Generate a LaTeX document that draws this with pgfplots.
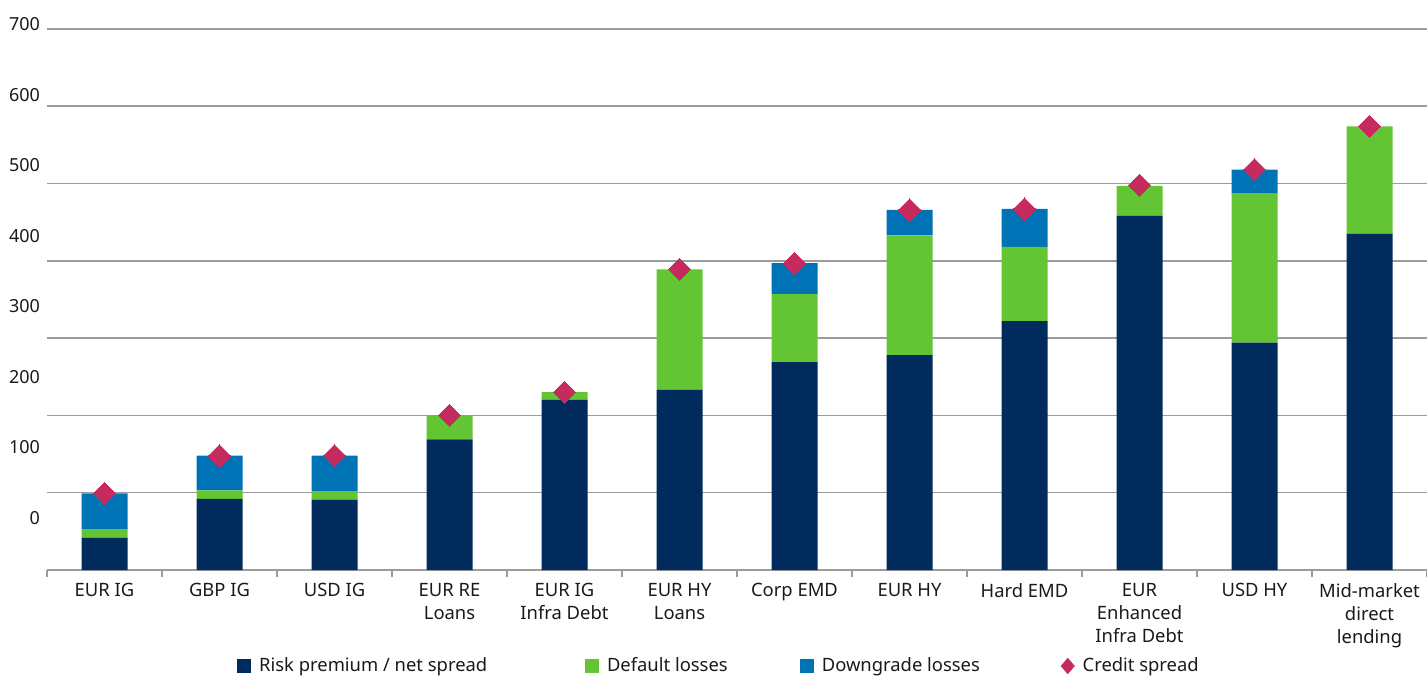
\documentclass[border=0pt]{standalone}
\usepackage{pgfplots}
\usepackage{pgfplotstable}
\pgfplotsset{compat=1.18}
\usepackage{fontspec}
\setmainfont{Noto Sans}
\definecolor{cnavy}{HTML}{002B5C}
\definecolor{cgreen}{HTML}{64C534}
\definecolor{cblue}{HTML}{0073B7}
\definecolor{ccrim}{HTML}{C52B5E}
\definecolor{cgrid}{HTML}{9C9C9C}
\definecolor{ctext}{HTML}{1A1A1A}

\pgfplotstableread{
x rp dl dg cs
0 42 11 46 99
1 92 11 45 148
2 91 11 46 148
3 169 31 0 200
4 220 10 0 230
5 233 156 0 389
6 269 88 40 397
7 278 155 33 466
8 322 96 49 467
9 458 39 0 498
10 294 193 31 518
11 435 139 0 574
}\datatable

\pgfplotsset{
  common/.style={
    scale only axis,
    width=690pt, height=275.2pt,
    xmin=-0.5, xmax=11.5,
    ymin=0, ymax=712,
    font=\fontsize{9.2}{11.5}\selectfont,
  }
}

\begin{document}
\begin{tikzpicture}
\begin{axis}[common, name=main,
  ybar stacked, bar width=23pt,
  axis x line*=bottom, axis y line*=left,
  x axis line style={cgrid, line width=0.75pt, -},
  y axis line style={draw=none},
  xtick={0,...,11},
  xticklabels={EUR IG, GBP IG, USD IG, EUR RE\\Loans, EUR IG\\Infra Debt, EUR HY\\Loans, Corp EMD, EUR HY, Hard EMD, EUR\\Enhanced\\Infra Debt, USD HY, Mid-market\\direct\\lending},
  xticklabel style={align=center, text=ctext, font=\fontsize{9.2}{11.5}\selectfont, yshift=-3.2pt},
  xtick style={draw=none},
  extra x ticks={-0.5,0.5,...,11.5},
  extra x tick labels={},
  extra x tick style={xtick style={draw=cgrid, line width=0.6pt}, major tick length=3.5pt, tick align=outside},
  ytick={67.5,158.7,249.8,341,432.2,523.3,614.5,705.6},
  yticklabels={0,100,200,300,400,500,600,700},
  yticklabel style={text=ctext, font=\fontsize{9}{11}\selectfont},
  ytick style={draw=none},
  extra y ticks={100,200,300,400,500,600,700},
  extra y tick labels={},
  extra y tick style={grid=major, major grid style={cgrid, line width=0.75pt}, ytick style={draw=none}},
]
\addplot[fill=cnavy, draw=none] table[x=x, y=rp]{\datatable};
\addplot[fill=cgreen, draw=none] table[x=x, y=dl]{\datatable};
\addplot[fill=cblue, draw=none] table[x=x, y=dg]{\datatable};
\end{axis}
\begin{axis}[common, hide axis,
  legend columns=4,
  legend style={at={(0.1377,-0.1744)}, anchor=west, draw=none, fill=none, inner sep=0pt,
    font=\fontsize{9.2}{11.5}\selectfont, text=ctext,
    nodes={inner sep=0pt},
    /tikz/every odd column/.append style={column sep=4pt}},
]
\addlegendimage{legend image code/.code={\fill[cnavy] (0pt,-3.25pt) rectangle (6.5pt,3.25pt);}}
\addlegendentry{\makebox[163pt][l]{Risk premium / net spread}}
\addlegendimage{legend image code/.code={\fill[cgreen] (0pt,-3.25pt) rectangle (6.5pt,3.25pt);}}
\addlegendentry{\makebox[96.5pt][l]{Default losses}}
\addlegendimage{legend image code/.code={\fill[cblue] (0pt,-3.25pt) rectangle (6.5pt,3.25pt);}}
\addlegendentry{\makebox[119.5pt][l]{Downgrade losses}}
\addplot[only marks, color=ccrim, mark=square*, mark size=3.9pt, mark options={rotate=45, fill=ccrim, draw=ccrim, line width=0pt},
  legend image code/.code={\fill[ccrim] (3.25pt,-3.8pt) -- (6.5pt,0pt) -- (3.25pt,3.8pt) -- (0pt,0pt) -- cycle;}]
  table[x=x, y=cs]{\datatable};
\addlegendentry{Credit spread}
\end{axis}
\pgfresetboundingbox
\path ([xshift=-23.5pt,yshift=-53.5pt]main.south west) rectangle ([yshift=9.8pt]main.north east);
\end{tikzpicture}
\end{document}
